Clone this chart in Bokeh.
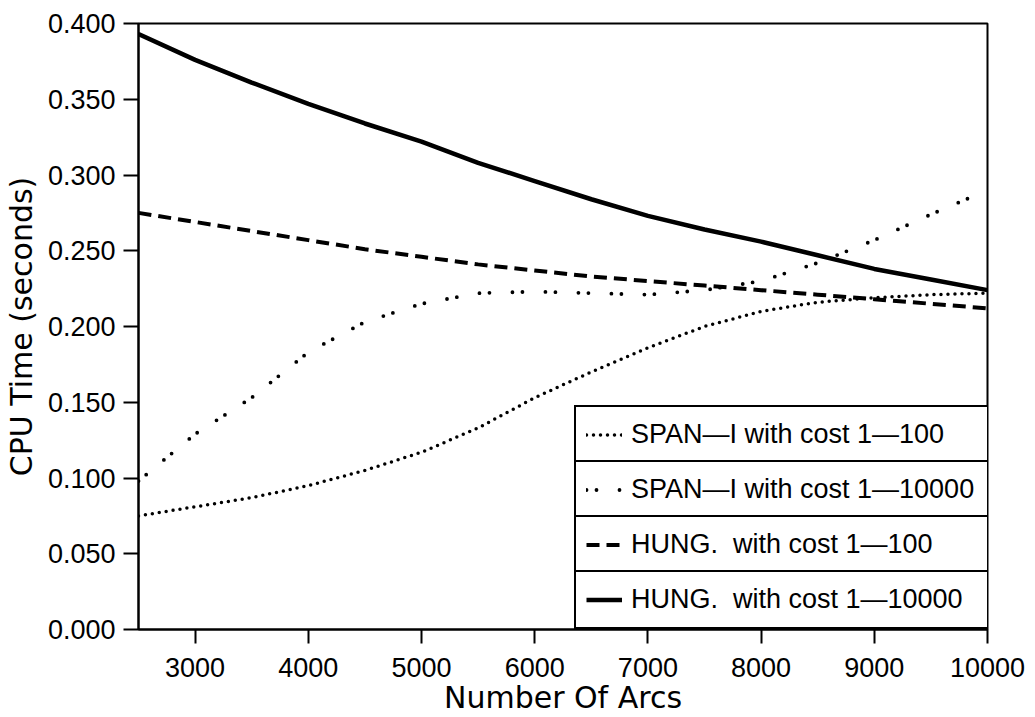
from bokeh.plotting import figure
from bokeh.models import Range1d, FixedTicker, PrintfTickFormatter, Legend, LegendItem
from bokeh.embed import file_html
from bokeh.resources import INLINE

# ---- data ----
arcs = [2500, 3000, 3500, 4000, 4500, 5000, 5500, 6000, 6500, 7000, 7500, 8000, 8500, 9000, 9500, 10000]
span_100 = [0.075, 0.081, 0.087, 0.095, 0.105, 0.117, 0.133, 0.153, 0.170, 0.186, 0.200, 0.210, 0.216, 0.219, 0.221, 0.222]
span_10000 = [0.098, 0.129, 0.153, 0.183, 0.203, 0.215, 0.222, 0.223, 0.222, 0.221, 0.224, 0.230, 0.242, 0.257, 0.274, 0.290]
hung_100 = [0.275, 0.269, 0.263, 0.257, 0.251, 0.246, 0.241, 0.237, 0.233, 0.230, 0.227, 0.224, 0.221, 0.218, 0.215, 0.212]
hung_10000 = [0.393, 0.376, 0.361, 0.347, 0.334, 0.322, 0.308, 0.296, 0.284, 0.273, 0.264, 0.256, 0.247, 0.238, 0.231, 0.224]

x_ticks = [3000, 4000, 5000, 6000, 7000, 8000, 9000, 10000]
y_ticks = [0.0, 0.05, 0.1, 0.15, 0.2, 0.25, 0.3, 0.35, 0.4]

labels = ["SPAN\u2014I with cost 1\u2014100",
          "SPAN\u2014I with cost 1\u201410000",
          "HUNG.  with cost 1\u2014100",
          "HUNG.  with cost 1\u201410000"]

FONT = "Liberation Sans"
LABEL_FONT = "DejaVu Sans"

p = figure(width=1035, height=717, output_backend="svg", toolbar_location=None,
           x_range=Range1d(2500, 10000), y_range=Range1d(0, 0.4),
           min_border_left=137, min_border_right=48, min_border_top=23, min_border_bottom=88)

p.xgrid.visible = False
p.ygrid.visible = False
p.outline_line_color = "black"
p.outline_line_width = 2
p.outline_line_alpha = 1.0
p.background_fill_color = "white"
p.border_fill_color = "white"

r1 = p.line(arcs, span_100, line_color="black", line_width=3.5, line_dash="0 7", line_cap="round")
r2 = p.line(arcs, span_10000, line_color="black", line_width=3.8, line_dash="0 10 0 23", line_cap="round")
r3 = p.line(arcs, hung_100, line_color="black", line_width=4, line_dash="13 7")
r4 = p.line(arcs, hung_10000, line_color="black", line_width=4.5)

for ax in (p.xaxis[0], p.yaxis[0]):
    ax.axis_line_color = "black"
    ax.axis_line_width = 2
    ax.major_tick_line_color = "black"
    ax.major_tick_line_width = 2
    ax.major_tick_in = 0
    ax.minor_tick_line_color = None
    ax.major_label_text_font = FONT
    ax.major_label_text_font_size = "27px"
    ax.major_label_text_color = "black"
    ax.axis_label_text_font = LABEL_FONT
    ax.axis_label_text_font_size = "30px"
    ax.axis_label_text_font_style = "normal"
    ax.axis_label_text_color = "black"

p.xaxis.ticker = FixedTicker(ticks=x_ticks)
p.yaxis.ticker = FixedTicker(ticks=y_ticks)
p.yaxis.formatter = PrintfTickFormatter(format="%.3f")
p.xaxis.major_tick_out = 14
p.yaxis.major_tick_out = 15
p.xaxis.major_label_standoff = 14
p.yaxis.major_label_standoff = 8
p.xaxis.axis_label = "Number Of Arcs"
p.yaxis.axis_label = "CPU Time (seconds)"
p.xaxis.axis_label_standoff = 0
p.yaxis.axis_label_standoff = 6

renderers = [r1, r2, r3, r4]
row_h = 55
for i, (lab, r) in enumerate(zip(labels, renderers)):
    leg = Legend(items=[LegendItem(label=lab, renderers=[r])],
                 location=(436, (3 - i) * row_h))
    leg.border_line_color = "black"
    leg.border_line_width = 2
    leg.border_line_alpha = 1.0
    leg.background_fill_color = "white"
    leg.background_fill_alpha = 1.0
    leg.padding = 10
    leg.margin = 0
    leg.glyph_width = 36
    leg.glyph_height = 35
    leg.label_height = 35
    leg.label_width = 350
    leg.label_standoff = 9
    leg.label_text_font = FONT
    leg.label_text_font_size = "27px"
    leg.label_text_color = "black"
    p.add_layout(leg, "center")

open("out.html", "w").write(file_html(p, INLINE))
